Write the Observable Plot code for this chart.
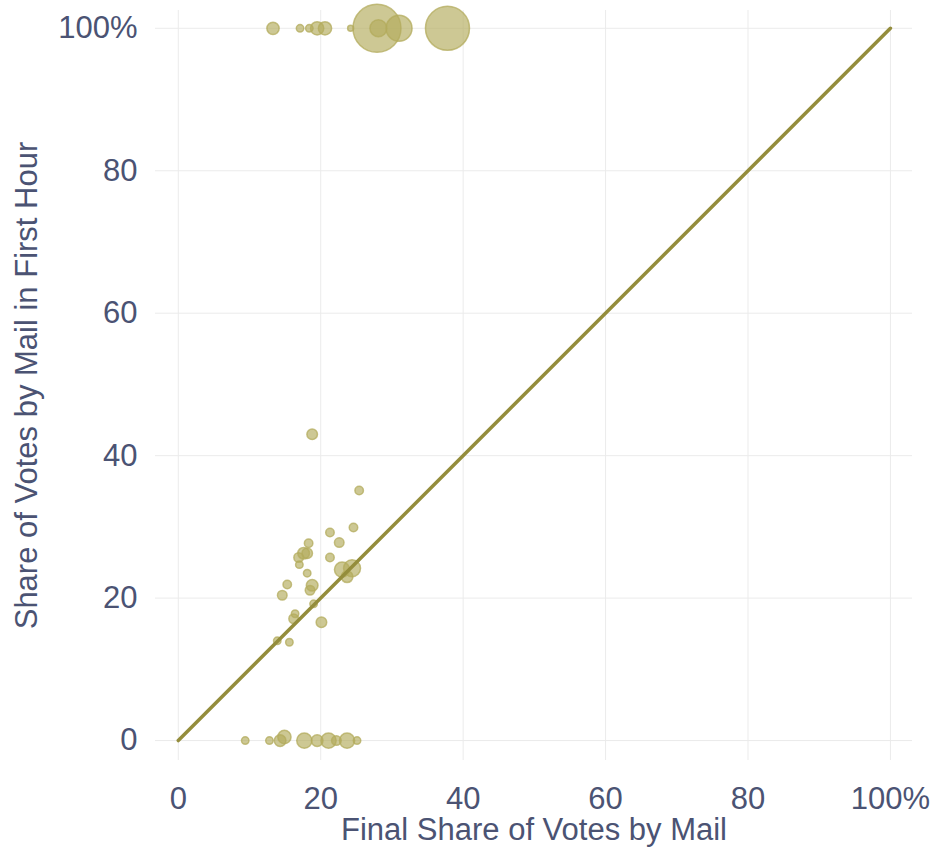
<!DOCTYPE html>
<html>
<head>
<meta charset="utf-8">
<script src="https://cdn.jsdelivr.net/npm/d3@7"></script>
<script src="https://cdn.jsdelivr.net/npm/@observablehq/plot@0.6"></script>
<style>
  html, body { margin: 0; padding: 0; background: #ffffff; }
  #chart { width: 935px; height: 848px; }
</style>
</head>
<body>
<div id="chart"></div>
<script>
// Final share of votes by mail (%), per district
const finalShare = [
  // reported 100% by mail in first hour
  13.3, 17.1, 18.4, 19.5, 20.6, 24.2, 27.9, 28.1, 31.0, 37.8,
  // reported 0% by mail in first hour
  9.4, 12.8, 14.3, 14.9, 17.7, 19.5, 21.1, 22.2, 23.7, 25.1,
  // in-between
  18.8, 25.4, 21.3, 24.6, 18.3, 22.6, 17.6, 18.1, 16.9, 17.0,
  21.3, 18.1, 23.0, 24.4, 23.7, 15.3, 18.8, 18.5, 14.6, 19.0,
  20.1, 16.4, 16.2, 13.9, 15.6
];
// Share of votes by mail in first hour (%)
const firstHourShare = [
  100, 100, 100, 100, 100, 100, 100, 100, 100, 100,
  0, 0, 0, 0.5, 0, 0, 0, 0, 0, 0,
  43.0, 35.1, 29.2, 29.9, 27.7, 27.8, 26.3, 26.3, 25.7, 24.7,
  25.7, 23.5, 24.0, 24.2, 23.0, 21.9, 21.8, 21.1, 20.4, 19.2,
  16.6, 17.8, 17.1, 14.0, 13.8
];
// Total votes
const totalVotes = [
  1900, 700, 700, 2200, 2200, 450, 28800, 3600, 8450, 24200,
  700, 700, 1700, 2200, 2900, 1700, 2900, 1150, 2900, 700,
  1400, 900, 900, 900, 900, 1150, 1700, 1400, 1150, 700,
  900, 700, 2900, 3600, 1700, 900, 1700, 1150, 1150, 700,
  1400, 700, 1150, 700, 700
];
const ticks = [0, 20, 40, 60, 80, 100];
const refLine = [{x: 0, y: 0}, {x: 100, y: 100}];
const xTitle = "Final Share of Votes by Mail";
const yTitle = "Share of Votes by Mail in First Hour";

const data = finalShare.map((x, i) => ({x, y: firstHourShare[i], votes: totalVotes[i]}))
  .sort((a, b) => b.votes - a.votes);

const textColor = "#4b5373";
const pct = d => d === 100 ? "100%" : String(d);

const chart = Plot.plot({
  width: 935,
  height: 848,
  marginLeft: 155,
  marginRight: 23,
  marginTop: 10,
  marginBottom: 88,
  style: {fontFamily: "'Liberation Sans', Arial, sans-serif", background: "#ffffff"},
  x: {domain: [-3.2, 103.1]},
  y: {domain: [-2.8, 102.5]},
  r: {type: "sqrt", domain: [0, 28800], range: [0, 24]},
  marks: [
    Plot.gridX(ticks, {stroke: "#ebebeb", strokeOpacity: 1, strokeWidth: 1}),
    Plot.gridY(ticks, {stroke: "#ebebeb", strokeOpacity: 1, strokeWidth: 1}),
    Plot.axisX(ticks, {tickSize: 0, tickPadding: 26, tickFormat: pct, fontSize: 31, fill: textColor, label: null}),
    Plot.axisY(ticks, {tickSize: 0, tickPadding: 18, tickFormat: pct, fontSize: 31, fill: textColor, label: null}),
    Plot.dot(data, {x: "x", y: "y", r: "votes", fill: "#b3ab5c", fillOpacity: 0.66, stroke: "#b3ab5c", strokeOpacity: 0.75, strokeWidth: 1.5}),
    Plot.line(refLine, {x: "x", y: "y", stroke: "#948d3c", strokeWidth: 3.5}),
    Plot.text([xTitle], {frameAnchor: "bottom", dy: 70, text: d => d, fontSize: 31, fill: textColor, lineAnchor: "middle", textAnchor: "middle"}),
    Plot.text([yTitle], {frameAnchor: "left", dx: -128, rotate: -90, text: d => d, fontSize: 31, fill: textColor, lineAnchor: "middle", textAnchor: "middle"})
  ]
});
document.getElementById("chart").appendChild(chart);
</script>
</body>
</html>
